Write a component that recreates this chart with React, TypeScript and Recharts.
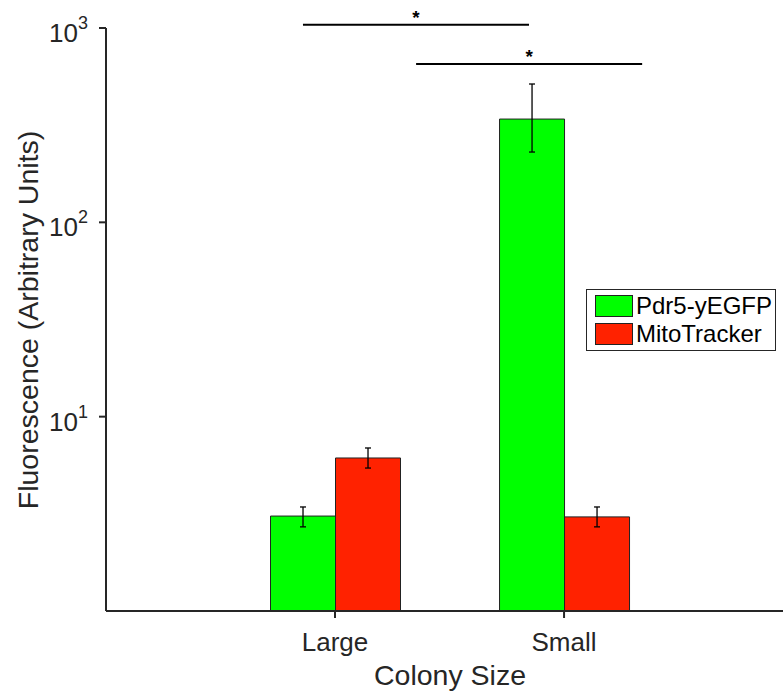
import React from 'react';
import { ComposedChart, Bar, XAxis, YAxis, ErrorBar, ReferenceLine, Legend, Label } from 'recharts';

const FONT = '"Liberation Sans", Arial, sans-serif';
const TEXT = '#262626';

const categories = ['Large', 'Small'];
const positions = [1, 2];
const seriesNames = ['Pdr5-yEGFP', 'MitoTracker'];
const pdr5 = [3.08, 340];
const pdr5Low = [2.71, 230];
const pdr5High = [3.43, 515];
const mito = [6.13, 3.05];
const mitoLow = [5.44, 2.71];
const mitoHigh = [6.9, 3.43];
const yTicks = [10, 100, 1000];
// significance brackets: from / to on the x axis, height in data units
const sigFrom = [0.86, 1.354];
const sigTo = [1.847, 2.341];
const sigY = [1038, 653];

const data = categories.map((name, i) => ({
  name,
  pos: positions[i],
  pdr5: pdr5[i],
  pdr5Err: [pdr5[i] - pdr5Low[i], pdr5High[i] - pdr5[i]],
  mito: mito[i],
  mitoErr: [mito[i] - mitoLow[i], mitoHigh[i] - mito[i]],
}));

function LogTick(props: any) {
  const { x, y, payload } = props;
  const exp = Math.round(Math.log10(payload.value));
  return (
    <text x={x - 9} y={y + 14} textAnchor="end" fill={TEXT} fontSize={26} fontFamily={FONT}>
      10<tspan dy={-13} fontSize={18}>{exp}</tspan>
    </text>
  );
}

function LegendBox(props: any) {
  const items = [...(props.payload || [])].sort(
    (a: any, b: any) => seriesNames.indexOf(a.value) - seriesNames.indexOf(b.value)
  );
  return (
    <div
      style={{
        border: `1.5px solid ${TEXT}`,
        background: '#fff',
        width: 190,
        boxSizing: 'border-box',
        padding: '2px 0 2px 8px',
        fontFamily: FONT,
        fontSize: 24,
        color: '#000',
      }}
    >
      {items.map((p: any) => (
        <div key={p.value} style={{ display: 'flex', alignItems: 'center', height: 28 }}>
          <span
            style={{
              display: 'inline-block',
              width: 38,
              height: 22,
              boxSizing: 'border-box',
              background: p.color,
              border: '1px solid #222',
              marginRight: 3,
            }}
          />
          <span style={{ lineHeight: '28px' }}>{p.value}</span>
        </div>
      ))}
    </div>
  );
}

export default function App() {
  return (
    <div style={{ position: 'absolute', left: 0, top: 0, background: '#fff' }}>
      <ComposedChart
        width={783}
        height={694}
        data={data}
        margin={{ top: 28, right: 0, bottom: 0, left: 0 }}
        barGap={0}
      >
        <XAxis
          dataKey="pos"
          type="number"
          domain={[0, 2.956]}
          ticks={positions}
          tickFormatter={(v: number) => categories[positions.indexOf(v)] ?? ''}
          height={83}
          tickSize={7}
          tickMargin={15}
          axisLine={{ stroke: TEXT, strokeWidth: 2 }}
          tickLine={{ stroke: TEXT, strokeWidth: 2 }}
          tick={{ fontSize: 26, fill: TEXT, fontFamily: FONT }}
          allowDataOverflow
        >
          <Label
            content={() => (
              <text x={450} y={685} textAnchor="middle" fill={TEXT} fontSize={28.5} fontFamily={FONT}>
                Colony Size
              </text>
            )}
          />
        </XAxis>
        <YAxis
          scale="log"
          domain={[1, 1000]}
          ticks={yTicks}
          allowDataOverflow
          width={106}
          tickSize={7}
          axisLine={{ stroke: TEXT, strokeWidth: 2 }}
          tickLine={{ stroke: TEXT, strokeWidth: 2 }}
          tick={<LogTick />}
        >
          <Label
            content={() => (
              <text
                x={38}
                y={320}
                transform="rotate(-90 38 320)"
                textAnchor="middle"
                fill={TEXT}
                fontSize={28.5}
                fontFamily={FONT}
              >
                Fluorescence (Arbitrary Units)
              </text>
            )}
          />
        </YAxis>
        <Legend
          layout="vertical"
          align="center"
          verticalAlign="middle"
          content={<LegendBox />}
          wrapperStyle={{ position: 'absolute', left: 586, top: 289, width: 'auto' }}
        />
        <Bar dataKey="pdr5" name={seriesNames[0]} fill="#00ff00" stroke="#222" strokeWidth={1} barSize={65} isAnimationActive={false}>
          <ErrorBar dataKey="pdr5Err" width={3} stroke="#000" strokeWidth={1.3} direction="y" />
        </Bar>
        <Bar dataKey="mito" name={seriesNames[1]} fill="#ff2200" stroke="#222" strokeWidth={1} barSize={65} isAnimationActive={false}>
          <ErrorBar dataKey="mitoErr" width={3} stroke="#000" strokeWidth={1.3} direction="y" />
        </Bar>
        {sigY.map((y, i) => (
          <ReferenceLine
            key={i}
            segment={[
              { x: sigFrom[i], y },
              { x: sigTo[i], y },
            ]}
            ifOverflow="visible"
            stroke="#000"
            strokeWidth={2}
            label={{ value: '*', position: 'top', offset: 1, fontSize: 19, fontWeight: 'bold', fill: '#000', fontFamily: FONT }}
          />
        ))}
      </ComposedChart>
    </div>
  );
}
